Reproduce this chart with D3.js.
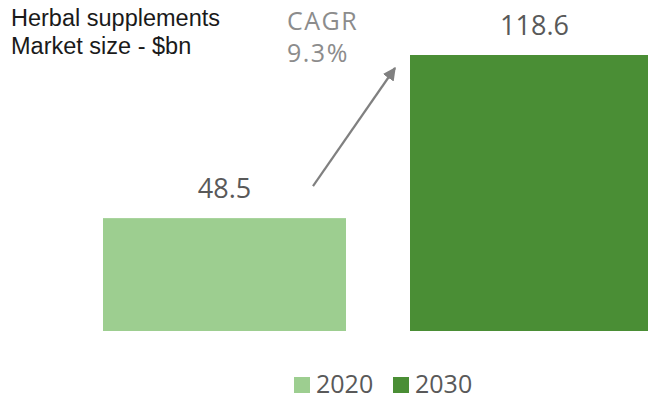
<!DOCTYPE html>
<html>
<head>
<meta charset="utf-8">
<script src="https://cdn.jsdelivr.net/npm/d3@7"></script>
<style>
  body { margin: 0; background: #fff; }
  svg { display: block; }
</style>
</head>
<body>
<svg width="648" height="399"></svg>
<script>
// Chart data
var years = ["2020", "2030"];
var marketSize = [48.5, 118.6];
var colors = ["#9dce90", "#4a8e35"];
var titleLines = ["Herbal supplements", "Market size - $bn"];
var cagrLines = ["CAGR", "9.3%"];

var svg = d3.select("svg");

// Scales: bars sit on a baseline at y=331, right bar runs off the edge.
var x = d3.scaleBand()
    .domain(years)
    .range([103, 653])
    .paddingInner(0.2085)
    .paddingOuter(0);

var y = d3.scaleLinear()
    .domain([0, d3.max(marketSize)])
    .range([331, 55]);

var data = years.map(function (yr, i) {
    return { year: yr, value: marketSize[i], color: colors[i] };
});

// Bars
svg.selectAll("rect.bar")
    .data(data)
    .enter().append("rect")
    .attr("class", "bar")
    .attr("x", function (d) { return x(d.year); })
    .attr("y", function (d) { return y(d.value); })
    .attr("width", x.bandwidth())
    .attr("height", function (d) { return y(0) - y(d.value); })
    .attr("fill", function (d) { return d.color; });

// Value labels above the bars
svg.selectAll("text.val")
    .data(data)
    .enter().append("text")
    .attr("class", "val")
    .attr("x", function (d) { return x(d.year) + x.bandwidth() / 2 + (d.value > 100 ? 3 : 0); })
    .attr("y", function (d) { return y(d.value) - 20; })
    .attr("text-anchor", "middle")
    .attr("font-family", "Open Sans, sans-serif")
    .attr("font-size", 27)
    .attr("fill", "#595959")
    .text(function (d) { return d.value.toFixed(1); });

// Title, top left
svg.append("g").selectAll("text")
    .data(titleLines)
    .enter().append("text")
    .attr("x", 11)
    .attr("y", function (d, i) { return 26 + i * 27.5; })
    .attr("font-family", "Liberation Sans, Arial, sans-serif")
    .attr("font-size", 23.5)
    .attr("fill", "#1a1a1a")
    .text(function (d) { return d; });

// CAGR annotation
svg.append("g").selectAll("text")
    .data(cagrLines)
    .enter().append("text")
    .attr("x", 287)
    .attr("y", function (d, i) { return 30 + i * 32; })
    .attr("font-family", "Open Sans, sans-serif")
    .attr("font-size", 25)
    .attr("letter-spacing", 1.5)
    .attr("fill", "#8c8c8c")
    .text(function (d) { return d; });

// Growth arrow from the 2020 label toward the 2030 bar
svg.append("defs").append("marker")
    .attr("id", "arrowhead")
    .attr("viewBox", "0 0 10 10")
    .attr("refX", 9)
    .attr("refY", 5)
    .attr("markerWidth", 6)
    .attr("markerHeight", 6)
    .attr("markerUnits", "strokeWidth")
    .attr("orient", "auto")
    .append("path")
    .attr("d", "M0,0 L10,5 L0,10 Z")
    .attr("fill", "#808080");

var x1 = x(years[0]) + x.bandwidth() - 33;
var y1 = y(marketSize[0]) - 32;
var x2 = x(years[1]) - 15;
var y2 = y(marketSize[1]) + 13;
svg.append("line")
    .attr("x1", x1).attr("y1", y1)
    .attr("x2", x2).attr("y2", y2)
    .attr("stroke", "#808080")
    .attr("stroke-width", 2.2)
    .attr("marker-end", "url(#arrowhead)");

// Legend
var legendX = [294, 393];
var legend = svg.append("g").selectAll("g")
    .data(data)
    .enter().append("g")
    .attr("transform", function (d, i) { return "translate(" + legendX[i] + ",377)"; });

legend.append("rect")
    .attr("width", 16)
    .attr("height", 16)
    .attr("fill", function (d) { return d.color; });

legend.append("text")
    .attr("x", 22)
    .attr("y", 16)
    .attr("font-family", "Open Sans, sans-serif")
    .attr("font-size", 25)
    .attr("fill", "#595959")
    .text(function (d) { return d.year; });
</script>
</body>
</html>
